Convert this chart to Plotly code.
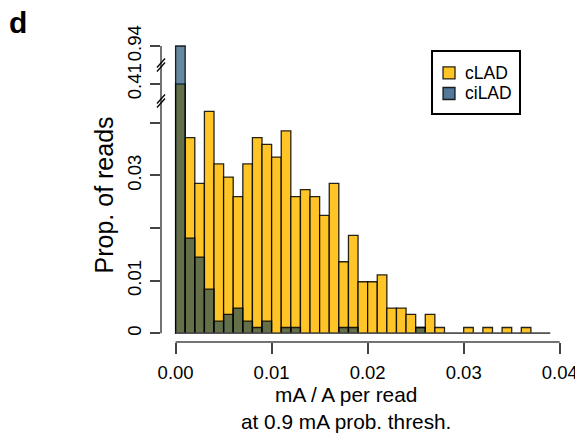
import plotly.graph_objects as go

# ---------------- data ----------------
bin_width = 0.001
bin_starts = [0.000, 0.001, 0.002, 0.003, 0.004, 0.005, 0.006, 0.007, 0.008, 0.009,
              0.010, 0.011, 0.012, 0.013, 0.014, 0.015, 0.016, 0.017, 0.018, 0.019,
              0.020, 0.021, 0.022, 0.023, 0.024, 0.025, 0.026, 0.027, 0.028, 0.029,
              0.030, 0.031, 0.032, 0.033, 0.034, 0.035, 0.036, 0.037, 0.038]
cLAD = [0.41, 0.0372, 0.0285, 0.0422, 0.0322, 0.0297, 0.0260, 0.0322, 0.0372, 0.0359,
        0.0335, 0.0385, 0.0260, 0.0273, 0.0260, 0.0224, 0.0285, 0.0136, 0.0186, 0.0098,
        0.0098, 0.0111, 0.0048, 0.0048, 0.0036, 0.0011, 0.0036, 0.0011, 0.0, 0.0,
        0.0011, 0.0, 0.0011, 0.0, 0.0011, 0.0, 0.0011, 0.0, 0.0]
ciLAD = [0.94, 0.0181, 0.0145, 0.0084, 0.0023, 0.0036, 0.0048, 0.0023, 0.0011, 0.0023,
         0.0, 0.0011, 0.0011, 0.0, 0.0, 0.0, 0.0, 0.0011, 0.0011, 0.0,
         0.0, 0.0, 0.0, 0.0, 0.0, 0.0011, 0.0, 0.0, 0.0, 0.0,
         0.0, 0.0, 0.0, 0.0, 0.0, 0.0, 0.0, 0.0, 0.0]
series_names = ["cLAD", "ciLAD"]
x_ticks = [0.00, 0.01, 0.02, 0.03, 0.04]
x_ticktext = ["0.00", "0.01", "0.02", "0.03", "0.04"]
y_ticks_low = [0.00, 0.01, 0.02, 0.03, 0.04]
y_ticktext_low = ["0", "0.01", "", "0.03", ""]
y_ticks_mid = [0.41]
y_ticks_top = [0.94]

# ---------------- styles ----------------
FONT = "Liberation Sans, Arial, Helvetica, sans-serif"
ORANGE = "#FFC425"
BLUE = "rgba(0,57,97,0.6)"
LEG_BLUE = "#52799A"
EDGE = "rgba(0,0,0,0.85)"
AX = "#444444"

centers = [b + bin_width / 2 for b in bin_starts]

# y segments (broken axis)
seg_low_dom = [0.0, 0.8087]
seg_mid_dom = [0.8087, 0.9295]
seg_top_dom = [0.9295, 1.0]
low_range = [-0.001654, 0.04416]
mid_range = [0.406768, 0.413612]
top_range = [0.936388, 0.94038]

fig = go.Figure()
for yax in ["y", "y2", "y3"]:
    fig.add_trace(go.Bar(x=centers, y=cLAD, width=bin_width, name=series_names[0],
                         marker=dict(color=ORANGE, line=dict(color=EDGE, width=1.3)),
                         xaxis="x", yaxis=yax, showlegend=False))
    fig.add_trace(go.Bar(x=centers, y=ciLAD, width=bin_width, name=series_names[1],
                         marker=dict(color=BLUE, line=dict(color=EDGE, width=1.3)),
                         xaxis="x", yaxis=yax, showlegend=False))

tickfont = dict(family=FONT, size=18.5, color="black")
common_y = dict(showgrid=False, zeroline=False, showline=False, ticks="outside",
                ticklen=10, tickwidth=1.5, tickcolor=AX, tickangle=-90,
                tickfont=tickfont, anchor="x", ticklabelstandoff=2)

shapes = []
# y axis lines per segment
shapes.append(dict(type="line", xref="paper", yref="y", x0=0, x1=0,
                   y0=y_ticks_low[0], y1=low_range[1], line=dict(color=AX, width=1.5)))
shapes.append(dict(type="line", xref="paper", yref="y2", x0=0, x1=0,
                   y0=mid_range[0], y1=mid_range[1], line=dict(color=AX, width=1.5)))
shapes.append(dict(type="line", xref="paper", yref="y3", x0=0, x1=0,
                   y0=top_range[0], y1=y_ticks_top[0], line=dict(color=AX, width=1.5)))
# x axis line
shapes.append(dict(type="line", xref="x", yref="paper", x0=x_ticks[0], x1=x_ticks[-1],
                   y0=0, y1=0, line=dict(color=AX, width=1.5)))
# baseline at zero across all bins
shapes.append(dict(type="line", xref="x", yref="y", x0=bin_starts[0],
                   x1=bin_starts[-1] + bin_width, y0=0, y1=0,
                   line=dict(color="#555555", width=1.5), layer="above"))
# break marks
for yb in [seg_low_dom[1], seg_mid_dom[1]]:
    for off in (-2, 2):
        shapes.append(dict(type="line", xref="paper", yref="paper",
                           xsizemode="pixel", ysizemode="pixel",
                           xanchor=0, yanchor=yb,
                           x0=-4, x1=4, y0=off - 4.5, y1=off + 4.5,
                           line=dict(color="black", width=1.3)))

# legend (drawn box, keys and labels)
leg_left, leg_right, leg_top, leg_bottom = 0.6594, 0.8735, 0.9765, 0.7651
shapes.append(dict(type="rect", xref="paper", yref="paper", x0=leg_left, x1=leg_right,
                   y0=leg_bottom, y1=leg_top, line=dict(color="black", width=2),
                   fillcolor="white", layer="above"))
leg_rows_y = [0.9034, 0.8339]
leg_colors = [ORANGE, LEG_BLUE]
annotations = []
for name, col, yc in zip(series_names, leg_colors, leg_rows_y):
    shapes.append(dict(type="rect", xref="paper", yref="paper",
                       xsizemode="pixel", ysizemode="pixel",
                       xanchor=leg_left, yanchor=yc,
                       x0=11, x1=23, y0=-6, y1=6,
                       fillcolor=col, line=dict(color=EDGE, width=1.3), layer="above"))
    annotations.append(dict(text=name, xref="paper", yref="paper", x=leg_left, y=yc,
                            xshift=31, xanchor="left", yanchor="middle", showarrow=False,
                            font=dict(family=FONT, size=17.5, color="black")))

annotations += [
    dict(text="<b>d</b>", xref="paper", yref="paper", x=-0.348, y=1.0738,
         xanchor="center", yanchor="middle", showarrow=False,
         font=dict(family=FONT, size=30, color="black")),
    dict(text="Prop. of reads", xref="paper", yref="paper", x=-0.1363, y=0.495,
         xanchor="center", yanchor="middle", textangle=-90, showarrow=False,
         font=dict(family=FONT, size=25, color="black")),
    dict(text="mA / A per read<br>at 0.9 mA prob. thresh.", xref="paper", yref="paper",
         x=0.4513, y=-0.2215, xanchor="center", yanchor="middle", showarrow=False,
         font=dict(family=FONT, size=20.8, color="black")),
]

fig.update_layout(
    width=575, height=433,
    margin=dict(l=161, r=3, t=44, b=91, autoexpand=False),
    paper_bgcolor="white", plot_bgcolor="white",
    barmode="overlay",
    showlegend=False,
    font=dict(family=FONT, color="black"),
    xaxis=dict(range=[-0.00152, 0.04128], tickvals=x_ticks, ticktext=x_ticktext,
               showgrid=False, zeroline=False, showline=False, ticks="outside",
               ticklen=11, tickwidth=1.5, tickcolor=AX, tickfont=tickfont,
               anchor="y", ticklabelstandoff=3, ticklabeloverflow="allow"),
    yaxis=dict(domain=seg_low_dom, range=low_range, tickvals=y_ticks_low,
               ticktext=y_ticktext_low, **common_y),
    yaxis2=dict(domain=seg_mid_dom, range=mid_range, tickvals=y_ticks_mid,
                ticktext=[f"{v:.2f}" for v in y_ticks_mid], **common_y),
    yaxis3=dict(domain=seg_top_dom, range=top_range, tickvals=y_ticks_top,
                ticktext=[f"{v:.2f}" for v in y_ticks_top], **common_y),
    shapes=shapes,
    annotations=annotations,
)

fig.write_html("out.html")
